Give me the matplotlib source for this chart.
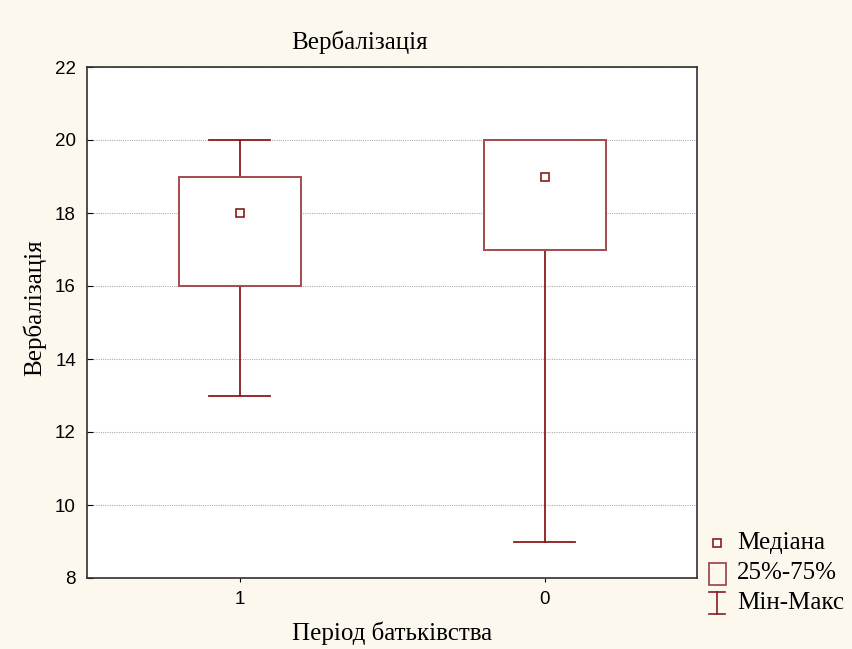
import matplotlib
matplotlib.use("Agg")
import matplotlib.pyplot as plt
from matplotlib.patches import Rectangle
from matplotlib.lines import Line2D

# data
groups = ["1", "0"]
medians = [18, 19]
q25 = [16, 17]
q75 = [19, 20]
mins = [13, 9]
maxs = [20, 20]

red = "#8B1A1F"
bg = "#FDF8EE"
serif = ["Liberation Serif", "DejaVu Serif"]

fig = plt.figure(figsize=(8.52, 6.49), dpi=100, facecolor=bg)
ax = fig.add_axes([87 / 852, 1 - 578 / 649, 610 / 852, 511 / 649])
ax.set_facecolor("white")

box_w = 0.4
cap_w = 0.2
for i in range(len(groups)):
    ax.plot([i, i], [mins[i], q25[i]], color=red, lw=1.3, zorder=3)
    ax.plot([i, i], [q75[i], maxs[i]], color=red, lw=1.3, zorder=3)
    ax.plot([i - cap_w / 2, i + cap_w / 2], [mins[i], mins[i]], color=red, lw=1.3, zorder=3)
    ax.plot([i - cap_w / 2, i + cap_w / 2], [maxs[i], maxs[i]], color=red, lw=1.3, zorder=3)
    ax.add_patch(Rectangle((i - box_w / 2, q25[i]), box_w, q75[i] - q25[i],
                           facecolor="white", edgecolor="#A44B4F", lw=1.4, zorder=3))
    ax.plot(i, medians[i], marker="s", ms=6, mfc="white", mec=red, mew=1.2, zorder=4)

ax.set_xlim(-0.5, 1.5)
ax.set_ylim(8, 22)
ax.set_xticks(range(len(groups)))
ax.set_xticklabels(groups)
ax.set_yticks(range(8, 23, 2))
ax.tick_params(axis="y", labelsize=13.5, length=4, direction="in", color="black", pad=8)
ax.tick_params(axis="x", labelsize=13.5, length=3, direction="out", color="black", pad=6)
for lab in ax.get_xticklabels() + ax.get_yticklabels():
    lab.set_family(["Liberation Sans", "DejaVu Sans"])
ax.yaxis.grid(True, linestyle=(0, (1, 1)), color="#B0B0B0", lw=0.8)
ax.set_axisbelow(True)
for s in ax.spines.values():
    s.set_linewidth(1.2)
    s.set_color("#303030")

fig.text(360 / 852, 1 - 42 / 649, "Вербалізація", ha="center", va="center",
         fontsize=18, family=serif)
fig.text(392 / 852, 1 - 633 / 649, "Період батьківства", ha="center", va="center",
         fontsize=18, family=serif)
fig.text(34 / 852, 1 - 308 / 649, "Вербалізація", ha="center", va="center",
         rotation=90, fontsize=18, family=serif)

# legend drawn in pixel coordinates
def px(x, y):
    return x / 852, 1 - y / 649

tf = fig.transFigure
fig.add_artist(Line2D(*zip(px(717, 543)), marker="s", ms=6, mfc="white", mec=red,
                      mew=1.2, transform=tf))
fig.add_artist(Rectangle(px(709, 585), 17 / 852, 22 / 649, facecolor="none",
                         edgecolor="#A44B4F", lw=1.3, transform=tf))
x0, y0 = px(717, 592)
x1, y1 = px(717, 614)
fig.add_artist(Line2D([x0, x1], [y0, y1], color=red, lw=1.2, transform=tf))
fig.add_artist(Line2D([px(709, 0)[0], px(725, 0)[0]], [y0, y0], color=red, lw=1.2, transform=tf))
fig.add_artist(Line2D([px(709, 0)[0], px(725, 0)[0]], [y1, y1], color=red, lw=1.2, transform=tf))
for txt, yy in [("Медіана", 543), ("25%-75%", 573), ("Мін-Макс", 603)]:
    fig.text(px(737, 0)[0], px(0, yy)[1], txt, ha="left", va="center",
             fontsize=18, family=serif)

fig.savefig("out.png", dpi=100, facecolor=bg)
